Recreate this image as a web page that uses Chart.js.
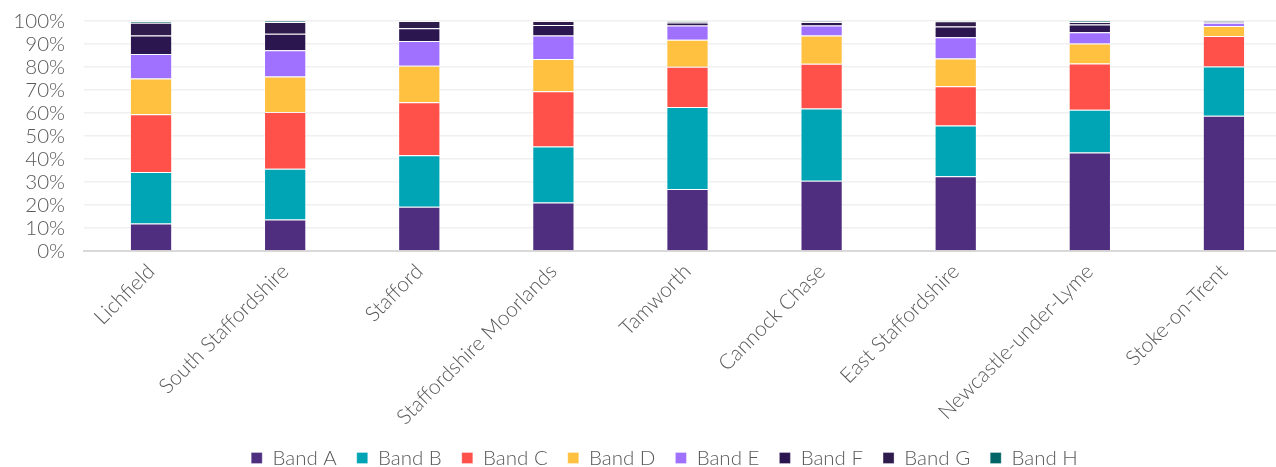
<!DOCTYPE html>
<html>
<head>
<meta charset="utf-8">
<script src="https://cdn.jsdelivr.net/npm/chart.js@4"></script>
<style>
  html, body { margin: 0; padding: 0; background: #fff; overflow: hidden; }
  #wrap { position: relative; width: 1291px; height: 467px; }
</style>
</head>
<body>
<div id="wrap"><canvas id="band-chart"></canvas></div>
<script>
const districts = ['Lichfield', 'South Staffordshire', 'Stafford', 'Staffordshire Moorlands',
    'Tamworth', 'Cannock Chase', 'East Staffordshire', 'Newcastle-under-Lyme', 'Stoke-on-Trent'];

// share of dwellings in each council tax band, percent
const bandA = [12.0, 13.7, 19.2, 21.1, 27.0, 30.5, 32.5, 42.8, 58.8];
const bandB = [22.4, 22.1, 22.4, 24.3, 35.6, 31.5, 22.1, 18.6, 21.4];
const bandC = [25.1, 24.6, 23.1, 24.1, 17.5, 19.4, 17.0, 20.1, 13.3];
const bandD = [15.5, 15.5, 15.8, 14.0, 11.7, 12.3, 12.1, 8.7, 4.3];
const bandE = [10.6, 11.4, 10.8, 10.2, 6.2, 4.3, 9.2, 4.9, 1.4];
const bandF = [8.1, 7.2, 5.5, 4.6, 1.3, 1.6, 4.7, 3.4, 0.4];
const bandG = [5.5, 5.1, 3.2, 1.7, 0.5, 0.2, 2.3, 1.1, 0.2];
const bandH = [0.8, 0.4, 0.0, 0.0, 0.2, 0.2, 0.1, 0.4, 0.2];

const bandNames = ['Band A', 'Band B', 'Band C', 'Band D', 'Band E', 'Band F', 'Band G', 'Band H'];
const bandColours = ['#4f2d7f', '#00a5b5', '#ff5049', '#ffc13f', '#a070ff', '#2c1650', '#301c4c', '#006567'];
const bandValues = [bandA, bandB, bandC, bandD, bandE, bandF, bandG, bandH];

const yTicks = [0, 10, 20, 30, 40, 50, 60, 70, 80, 90, 100];

const textColour = '#595959';
const tickFont = { family: 'Lato, sans-serif', size: 20.5, weight: 300 };
const districtFont = { family: 'Lato, sans-serif', size: 21, weight: 300 };

// plot box and legend placement (px)
const plotTop = 21;
const plotBottom = 251;
const legendPad = 20;
const legendMidY = 458;
const legendSpace = 26;
const legendHeight = tickFont.size + legendPad + 10;

// move the legend row a little right and down from where the layout puts it
const legendShift = {
    id: 'legendShift',
    afterLayout(chart) {
        const lg = chart.legend;
        if (!lg) return;
        const dx = 15;
        const dy = legendMidY - (lg.top + legendPad + tickFont.size / 2);
        lg.left += dx;
        lg.right += dx;
        lg.top += dy;
        lg.bottom += dy;
    }
};

const datasets = bandNames.map((name, i) => ({
    label: name,
    data: bandValues[i],
    backgroundColor: bandColours[i],
    borderColor: 'rgba(255,255,255,0.3)',
    borderWidth: 1,
    categoryPercentage: 1,
    barPercentage: 0.315,
}));

const canvas = document.getElementById('band-chart');
if (canvas) {
    new Chart(canvas.getContext('2d'), {
        type: 'bar',
        data: { labels: districts, datasets: datasets },
        options: {
            responsive: true,
            maintainAspectRatio: false,
            animation: false,
            layout: { padding: { top: plotTop, left: 8, right: 0, bottom: legendSpace - legendHeight } },
            scales: {
                x: {
                    stacked: true,
                    afterFit(axis) { axis.height = 467 - legendSpace - plotBottom; },
                    grid: { display: false },
                    border: { color: '#d9d9d9', width: 2 },
                    ticks: {
                        color: textColour,
                        font: districtFont,
                        minRotation: 45,
                        maxRotation: 45,
                        autoSkip: false,
                        padding: 0,
                    },
                },
                y: {
                    stacked: true,
                    min: 0,
                    max: 100,
                    afterBuildTicks(axis) {
                        axis.ticks = yTicks.map(v => ({ value: v }));
                    },
                    afterFit(axis) {
                        axis.width = 76;
                        axis.paddingTop = 0;
                        axis.paddingBottom = 0;
                    },
                    grid: { color: '#f0f0f0', lineWidth: 1.5, drawTicks: false },
                    border: { display: false },
                    ticks: {
                        color: textColour,
                        font: tickFont,
                        padding: 19,
                        autoSkip: false,
                        callback: v => v + '%',
                    },
                },
            },
            plugins: {
                tooltip: { enabled: false },
                legend: {
                    position: 'bottom',
                    labels: {
                        color: textColour,
                        font: tickFont,
                        boxWidth: 11,
                        boxHeight: 11,
                        padding: legendPad,
                    },
                },
            },
        },
        plugins: [legendShift],
    });
} else {
    console.error('band-chart canvas not found');
}
</script>
</body>
</html>
